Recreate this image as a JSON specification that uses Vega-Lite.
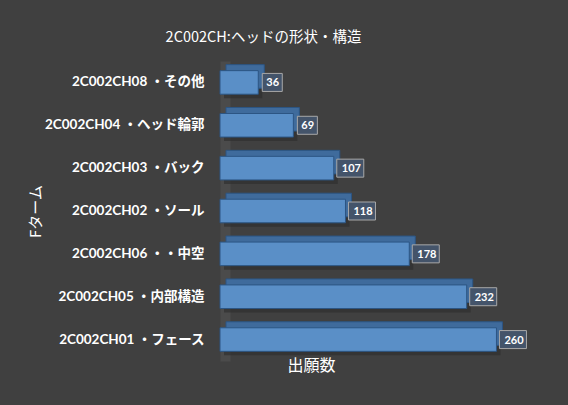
{
  "$schema": "https://vega.github.io/schema/vega-lite/v6.json",
  "width": 319,
  "height": 300,
  "autosize": {"type": "none"},
  "padding": {"left": 220, "top": 61, "right": 29, "bottom": 44},
  "background": "#404040",
  "view": {"stroke": null},
  "title": {
    "text": "2C002CH:ヘッドの形状・構造",
    "font": "Noto Sans CJK JP",
    "fontSize": 14.5,
    "fontWeight": "normal",
    "color": "white",
    "anchor": "middle",
    "frame": "group",
    "dx": -116,
    "baseline": "bottom",
    "offset": 2
  },
  "data": {
    "values": [
      {"fterm": "2C002CH08 ・その他", "count": 36},
      {"fterm": "2C002CH04 ・ヘッド輪郭", "count": 69},
      {"fterm": "2C002CH03 ・バック", "count": 107},
      {"fterm": "2C002CH02 ・ソール", "count": 118},
      {"fterm": "2C002CH06 ・・中空", "count": 178},
      {"fterm": "2C002CH05 ・内部構造", "count": 232},
      {"fterm": "2C002CH01 ・フェース", "count": 260}
    ]
  },
  "encoding": {
    "y": {
      "field": "fterm",
      "type": "nominal",
      "sort": [
        "2C002CH08 ・その他",
        "2C002CH04 ・ヘッド輪郭",
        "2C002CH03 ・バック",
        "2C002CH02 ・ソール",
        "2C002CH06 ・・中空",
        "2C002CH05 ・内部構造",
        "2C002CH01 ・フェース"
      ],
      "scale": {"paddingInner": 0.45, "paddingOuter": 0.225},
      "axis": {
        "title": "Fターム",
        "titleColor": "white",
        "titleFont": "Noto Sans CJK JP",
        "titleFontSize": 15,
        "titleFontWeight": "normal",
        "titleX": -190,
        "titleY": 150,
        "titleAngle": -90,
        "titleAlign": "center",
        "titleBaseline": "middle",
        "labelColor": "white",
        "labelFont": "Lato, Noto Sans CJK JP",
        "labelFontSize": 13.5,
        "labelFontWeight": "bold",
        "labelPadding": 21,
        "labelLimit": 300,
        "ticks": false,
        "tickSize": 0,
        "domainColor": "#4b4b4b",
        "domainWidth": 10,
        "offset": -5
      }
    },
    "x": {
      "field": "count",
      "type": "quantitative",
      "scale": {"domain": [0, 300]},
      "axis": {
        "title": "出願数",
        "titleColor": "white",
        "titleFont": "Noto Sans CJK JP",
        "titleFontSize": 16,
        "titleFontWeight": "normal",
        "titleX": 91,
        "titleY": 4,
        "titleAlign": "center",
        "titleBaseline": "middle",
        "labels": false,
        "ticks": false,
        "domain": false,
        "grid": false
      }
    }
  },
  "layer": [
    {"mark": {"type": "bar", "color": "#2a2a2a", "opacity": 0.55, "xOffset": 4, "yOffset": 4}},
    {"mark": {"type": "bar", "fill": "#3f6b9c", "stroke": "#2c5583", "strokeWidth": 1, "xOffset": 6, "yOffset": -6}},
    {"mark": {"type": "bar", "fill": "#5a8fc7", "stroke": "#2c5583", "strokeWidth": 1}},
    {
      "transform": [{"filter": "datum.count < 100"}],
      "mark": {"type": "bar", "size": 18, "fill": "#44546a", "stroke": "#a8a8a8", "strokeWidth": 1, "xOffset": 4, "x2Offset": 24},
      "encoding": {"x2": {"field": "count"}}
    },
    {
      "transform": [{"filter": "datum.count >= 100"}],
      "mark": {"type": "bar", "size": 18, "fill": "#44546a", "stroke": "#a8a8a8", "strokeWidth": 1, "xOffset": 3, "x2Offset": 30},
      "encoding": {"x2": {"field": "count"}}
    },
    {
      "mark": {"type": "text", "align": "left", "baseline": "middle", "dx": 8, "dy": 1, "color": "white", "font": "Lato", "fontSize": 11, "fontWeight": "bold"},
      "encoding": {"text": {"field": "count", "type": "quantitative"}}
    }
  ]
}
